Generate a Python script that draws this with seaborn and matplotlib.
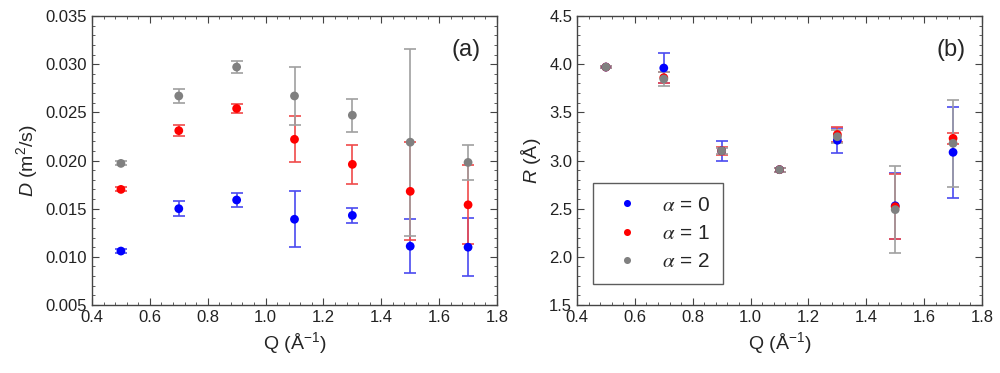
import numpy as np
import pandas as pd
import matplotlib
matplotlib.use('Agg')
import matplotlib.pyplot as plt
from matplotlib.ticker import MultipleLocator
import seaborn as sns

# data
q = [0.5, 0.7, 0.9, 1.1, 1.3, 1.5, 1.7]
labels = [r'$\alpha$ = 0', r'$\alpha$ = 1', r'$\alpha$ = 2']

D_a0 = [0.0106, 0.0150, 0.0159, 0.0139, 0.0143, 0.0111, 0.0110]
D_a0_err = [0.0002, 0.0008, 0.00075, 0.0029, 0.0008, 0.0028, 0.0030]
D_a1 = [0.0170, 0.0231, 0.0254, 0.0222, 0.0196, 0.0168, 0.0154]
D_a1_err = [0.0002, 0.0006, 0.0005, 0.0024, 0.0020, 0.0051, 0.0041]
D_a2 = [0.0197, 0.0267, 0.0297, 0.0267, 0.0247, 0.0219, 0.0198]
D_a2_err = [0.0002, 0.0007, 0.0006, 0.0030, 0.0017, 0.0097, 0.0018]

R_a0 = [3.97, 3.96, 3.10, 2.905, 3.21, 2.53, 3.085]
R_a0_err = [0.01, 0.16, 0.10, 0.02, 0.13, 0.34, 0.47]
R_a1 = [3.97, 3.86, 3.10, 2.905, 3.27, 2.52, 3.23]
R_a1_err = [0.01, 0.06, 0.04, 0.02, 0.08, 0.34, 0.06]
R_a2 = [3.97, 3.846, 3.10, 2.905, 3.247, 2.49, 3.178]
R_a2_err = [0.01, 0.07, 0.03, 0.02, 0.07, 0.455, 0.45]

colors = ['#0000ff', '#ff0000', '#808080']
err_colors = ['#4a4af0', '#f04a4a', '#a0a0a0']


def long_frame(vals, errs):
    rows = []
    for lab, v, e in zip(labels, vals, errs):
        for x, y, ee in zip(q, v, e):
            rows.append({'Q': x, 'val': y, 'err': ee, 'alpha': lab})
    return pd.DataFrame(rows)


dfD = long_frame([D_a0, D_a1, D_a2], [D_a0_err, D_a1_err, D_a2_err])
dfR = long_frame([R_a0, R_a1, R_a2], [R_a0_err, R_a1_err, R_a2_err])

sns.set_style('ticks')
plt.rcParams['font.family'] = ['Liberation Sans', 'DejaVu Sans']
plt.rcParams['mathtext.fontset'] = 'custom'
plt.rcParams['mathtext.it'] = 'Liberation Sans:italic'
plt.rcParams['mathtext.rm'] = 'Liberation Sans'

fig = plt.figure(figsize=(10, 3.73), dpi=100)
ax1 = fig.add_axes([0.092, 0.1823, 0.405, 0.7748])
ax2 = fig.add_axes([0.577, 0.1823, 0.405, 0.7748])


def draw(ax, df, legend):
    for lab, ec in zip(labels, err_colors):
        sub = df[df['alpha'] == lab]
        ax.errorbar(sub['Q'], sub['val'], yerr=sub['err'], fmt='none',
                    ecolor=ec, elinewidth=1.2, capsize=4, capthick=1.2, zorder=2)
    sns.scatterplot(data=df, x='Q', y='val', hue='alpha', palette=colors,
                    s=40, linewidth=0, ax=ax, legend=legend, zorder=3)


draw(ax1, dfD, False)
draw(ax2, dfR, True)

ax1.set_xlim(0.4, 1.8)
ax1.set_ylim(0.005, 0.035)
ax1.yaxis.set_minor_locator(MultipleLocator(0.001))
ax1.set_yticks(np.arange(0.005, 0.0351, 0.005))
ax1.set_yticklabels(['%.3f' % v for v in np.arange(0.005, 0.0351, 0.005)])
ax1.set_ylabel(r'$D$ (m$^2$/s)', fontsize=14)
ax1.text(0.96, 0.86, '(a)', transform=ax1.transAxes, ha='right', fontsize=17)

ax2.set_xlim(0.4, 1.8)
ax2.set_ylim(1.5, 4.5)
ax2.yaxis.set_major_locator(MultipleLocator(0.5))
ax2.yaxis.set_minor_locator(MultipleLocator(0.1))
ax2.yaxis.set_major_formatter(plt.FormatStrFormatter('%.1f'))
ax2.set_ylabel(r'$R$ (Å)', fontsize=14)
ax2.text(0.96, 0.86, '(b)', transform=ax2.transAxes, ha='right', fontsize=17)

for ax in (ax1, ax2):
    ax.xaxis.set_major_locator(MultipleLocator(0.2))
    ax.xaxis.set_minor_locator(MultipleLocator(0.04))
    ax.xaxis.set_major_formatter(plt.FormatStrFormatter('%.1f'))
    ax.set_xlabel('Q (Å$^{-1}$)', fontsize=14)
    ax.tick_params(which='both', direction='in', top=True, right=True,
                   colors='#444444', labelcolor='#222222', labelsize=12)
    ax.tick_params(which='major', length=5)
    ax.tick_params(which='minor', length=2.5)
    for sp in ax.spines.values():
        sp.set_color('#444444')
        sp.set_linewidth(1.0)

leg = ax2.legend(loc='lower left', bbox_to_anchor=(0.04, 0.073),
                 prop={'size': 15, 'math_fontfamily': 'stix'},
                 frameon=True, fancybox=False, edgecolor='#333333',
                 handletextpad=0.7, borderpad=0.6, labelspacing=0.45,
                 markerscale=0.8, borderaxespad=0)
leg.get_frame().set_linewidth(1.0)

fig.savefig('out.png', dpi=100)
